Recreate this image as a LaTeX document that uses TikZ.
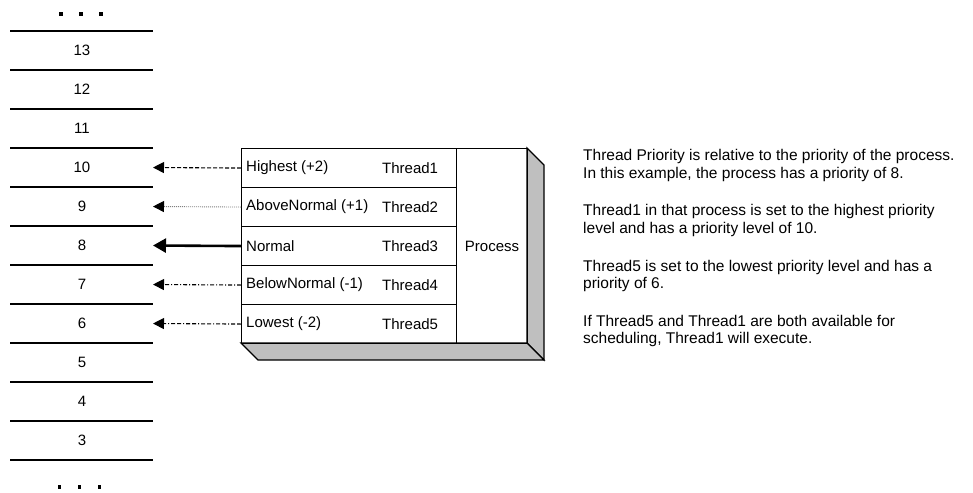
\documentclass[tikz,border=0pt]{standalone}
\usepackage{fontspec}
\setmainfont{Liberation Sans}
\usetikzlibrary{arrows.meta}

\tikzset{
  lbl/.style={font=\fontsize{15}{17.5}\selectfont, inner sep=0pt},
  scaleline/.style={line width=1.8pt},
  cell/.style={draw, line width=1.1pt, inner sep=0pt, anchor=north west},
  face/.style={draw, line width=1.1pt, fill=black!25, line join=miter},
  dotmark/.style={fill=black, minimum size=3.4pt, inner sep=0pt},
  ptr/.style={line width=1.1pt, -{Triangle[length=11pt,width=11pt]}},
  bigptr/.style={line width=2.6pt, -{Triangle[length=13pt,width=14pt]}},
  note/.style={font=\fontsize{15.5}{17.5}\selectfont, align=left, anchor=west, inner sep=0pt},
}

\begin{document}
\begin{tikzpicture}[x=1pt,y=-1pt]
\useasboundingbox (0,0) rectangle (973,492);

% ellipsis marks above and below the priority scale
\foreach \x [count=\i] in {61,81,101} {
  \node[dotmark] (dt\i) at (\x,14) {};
  \node[dotmark] (db\i) at (\x-1.5,487) {};
}

% priority scale: separators and level numbers
\foreach \y in {31,70,109,148,187,226,265,304,343,382,421,460}
  \draw[scaleline] (10,\y) -- (153,\y);
\foreach \n [count=\k from 0] in {13,12,11,10,9,8,7,6,5,4,3} {
  \node[lbl] (lvl\n) at (82,50.5+39*\k) {\n};
  \coordinate (s\n) at (153,50.5+39*\k);
}

% 3-D sides of the process block
\draw[face] (527,148) -- (544,165) -- (544,360) -- (527,343) -- cycle;
\draw[face] (241,343) -- (527,343) -- (544,360) -- (258,360) -- cycle;

% thread rows
\foreach \r [count=\k from 0] in {1,2,3,4,5}
  \node[cell, minimum width=215pt, minimum height=39pt] (r\r) at (241,148+39*\k) {};
\node[cell, minimum width=71pt, minimum height=195pt] (proc) at (456,148) {};
\node[lbl] (proclbl) at (proc.center) {Process};

\foreach \r/\t in {1/Highest (+2),2/AboveNormal (+1),3/Normal,4/BelowNormal (-1),5/Lowest (-2)}
  \node[lbl, anchor=west] (pl\r) at ([xshift=5pt]r\r.west) {\t};
\foreach \r in {1,...,5}
  \node[lbl, anchor=west] (th\r) at ([xshift=141pt]r\r.west) {Thread\r};

% priority pointers
\draw[ptr, dash pattern=on 4pt off 2pt] (r1.west) -- (s10);
\draw[ptr, black!50, line width=0.9pt, dash pattern=on 1pt off 1pt, -{Triangle[length=11pt,width=11pt,black]}] (r2.west) -- (s9);
\draw[bigptr] (r3.west) -- (s8);
\draw[ptr, dash pattern=on 4pt off 2pt on 1pt off 2pt] (r4.west) -- (s7);
\draw[ptr, dash pattern=on 4pt off 2pt on 4pt off 2pt on 1pt off 2pt] (r5.west) -- (s6);

% explanatory notes
\node[note] (n1) at (583,165.5) {Thread Priority is relative to the priority of the process.\\In this example, the process has a priority of 8.};
\node[note] (n2) at (583,220.5) {Thread1 in that process is set to the highest priority\\level and has a priority level of 10.};
\node[note] (n3) at (583,276) {Thread5 is set to the lowest priority level and has a\\priority of 6.};
\node[note] (n4) at (583,331) {If Thread5 and Thread1 are both available for\\scheduling, Thread1 will execute.};
\end{tikzpicture}
\end{document}
